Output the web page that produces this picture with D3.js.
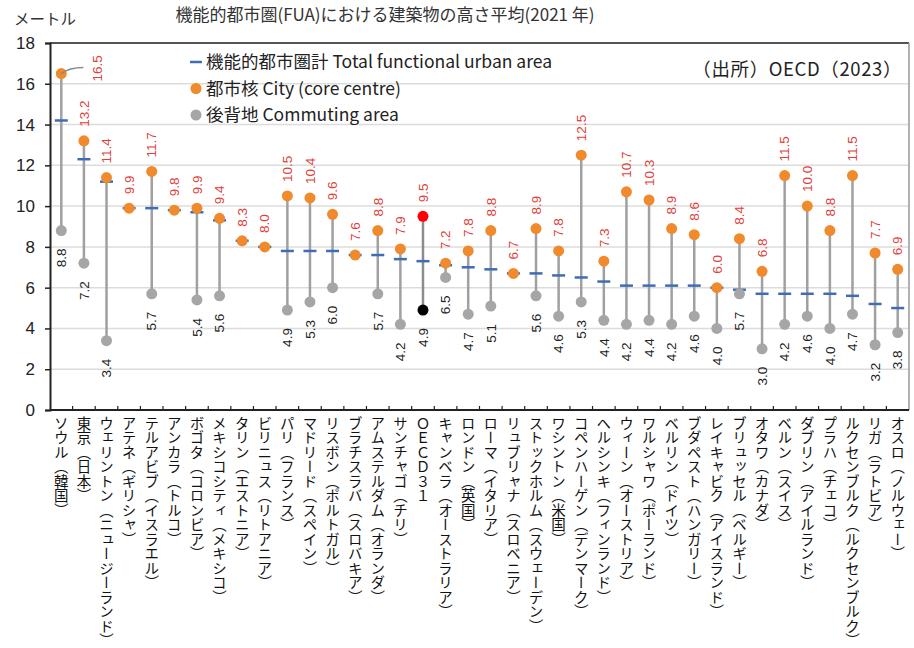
<!DOCTYPE html>
<html>
<head>
<meta charset="utf-8">
<script src="https://cdn.jsdelivr.net/npm/d3@7"></script>
<style>
  body { margin: 0; background: #fff; }
  text { font-family: "Noto Sans CJK JP", "Noto Sans", sans-serif; }
</style>
</head>
<body>
<svg id="chart"></svg>
<script>
const width = 914;
const height = 648;

// data
const cities = ["ソウル（韓国）", "東京（日本）", "ウェリントン（ニュージーランド）", "アテネ（ギリシャ）", "テルアビブ（イスラエル）",
  "アンカラ（トルコ）", "ボゴタ（コロンビア）", "メキシコシティ（メキシコ）", "タリン（エストニア）", "ビリニュス（リトアニア）",
  "パリ（フランス）", "マドリード（スペイン）", "リスボン（ポルトガル）", "ブラチスラバ（スロバキア）", "アムステルダム（オランダ）",
  "サンチャゴ（チリ）", "ＯＥＣＤ３１", "キャンベラ（オーストラリア）", "ロンドン（英国）", "ローマ（イタリア）",
  "リュブリャナ（スロベニア）", "ストックホルム（スウェーデン）", "ワシントン（米国）", "コペンハーゲン（デンマーク）", "ヘルシンキ（フィンランド）",
  "ウィーン（オーストリア）", "ワルシャワ（ポーランド）", "ベルリン（ドイツ）", "ブダペスト（ハンガリー）", "レイキャビク（アイスランド）",
  "ブリュッセル（ベルギー）", "オタワ（カナダ）", "ベルン（スイス）", "ダブリン（アイルランド）", "プラハ（チェコ）",
  "ルクセンブルク（ルクセンブルク）", "リガ（ラトビア）", "オスロ（ノルウェー）"];
const cityCore = [16.5, 13.2, 11.4, 9.9, 11.7, 9.8, 9.9, 9.4, 8.3, 8.0,
  10.5, 10.4, 9.6, 7.6, 8.8, 7.9, 9.5, 7.2, 7.8, 8.8,
  6.7, 8.9, 7.8, 12.5, 7.3, 10.7, 10.3, 8.9, 8.6, 6.0,
  8.4, 6.8, 11.5, 10.0, 8.8, 11.5, 7.7, 6.9];
const commuting = [8.8, 7.2, 3.4, null, 5.7, null, 5.4, 5.6, null, null,
  4.9, 5.3, 6.0, null, 5.7, 4.2, 4.9, 6.5, 4.7, 5.1,
  null, 5.6, 4.6, 5.3, 4.4, 4.2, 4.4, 4.2, 4.6, 4.0,
  5.7, 3.0, 4.2, 4.6, 4.0, 4.7, 3.2, 3.8];
const totalFua = [14.2, 12.3, 11.2, 9.9, 9.9, 9.8, 9.7, 9.3, 8.3, 8.0,
  7.8, 7.8, 7.8, 7.6, 7.6, 7.4, 7.3, 7.1, 7.0, 6.9,
  6.7, 6.7, 6.6, 6.5, 6.3, 6.1, 6.1, 6.1, 6.1, 6.0,
  5.9, 5.7, 5.7, 5.7, 5.7, 5.6, 5.2, 5.0];
const yTicks = [0, 2, 4, 6, 8, 10, 12, 14, 16, 18];

const data = cities.map((c, i) => ({name: c, city: cityCore[i], comm: commuting[i], total: totalFua[i]}));

const svg = d3.select("#chart")
  .attr("width", width)
  .attr("height", height);

const x = d3.scaleBand()
  .domain(cities)
  .range([50, 909]);

const y = d3.scaleLinear()
  .domain([0, 18])
  .range([410, 43]);

// gridlines
svg.append("g")
  .selectAll("line")
  .data(yTicks.slice(1, -1))
  .enter()
  .append("line")
  .attr("x1", 50)
  .attr("x2", 909)
  .attr("y1", d => y(d))
  .attr("y2", d => y(d))
  .attr("stroke", "#dcdcdc")
  .attr("stroke-width", 1.5);

// frame top / right
svg.append("line")
  .attr("x1", 50).attr("x2", 909)
  .attr("y1", y(18)).attr("y2", y(18))
  .attr("stroke", "#555").attr("stroke-width", 2);
svg.append("line")
  .attr("x1", 909).attr("x2", 909)
  .attr("y1", y(18)).attr("y2", y(0))
  .attr("stroke", "#999").attr("stroke-width", 1.5);

// y axis
const yAxis = svg.append("g")
  .attr("transform", "translate(50,0)")
  .call(d3.axisLeft(y).tickValues(yTicks).tickSize(5).tickPadding(10));
yAxis.select(".domain").attr("stroke", "#222").attr("stroke-width", 2);
yAxis.selectAll(".tick line").attr("stroke", "#222").attr("stroke-width", 1.5);
yAxis.selectAll(".tick text")
  .attr("font-size", "17px")
  .attr("fill", "#222")
  .style("font-family", "Liberation Sans, Arial, sans-serif");

// x axis (ticks at band boundaries, pointing up)
svg.append("line")
  .attr("x1", 50).attr("x2", 909)
  .attr("y1", y(0)).attr("y2", y(0))
  .attr("stroke", "#222").attr("stroke-width", 2);
svg.append("g")
  .selectAll("line")
  .data(cities.slice(1))
  .enter()
  .append("line")
  .attr("x1", d => x(d))
  .attr("x2", d => x(d))
  .attr("y1", y(0))
  .attr("y2", y(0) - 4)
  .attr("stroke", "#222")
  .attr("stroke-width", 1.2);

// category labels, vertical
svg.append("g")
  .selectAll("text")
  .data(cities)
  .enter()
  .append("text")
  .attr("x", d => x(d) + x.bandwidth() / 2)
  .attr("y", 416)
  .style("writing-mode", "vertical-rl")
  .attr("font-size", "14.5px")
  .attr("fill", "#111")
  .text(d => d);

const cx = d => x(d.name) + x.bandwidth() / 2;

// connecting lines
svg.append("g")
  .selectAll("line")
  .data(data.filter(d => d.comm != null))
  .enter()
  .append("line")
  .attr("x1", cx).attr("x2", cx)
  .attr("y1", d => y(d.city))
  .attr("y2", d => y(d.comm))
  .attr("stroke", d => d.name === "ＯＥＣＤ３１" ? "#8c8c8c" : "#a0a0a0")
  .attr("stroke-width", 2.5);

// total FUA dashes
svg.append("g")
  .selectAll("line")
  .data(data)
  .enter()
  .append("line")
  .attr("x1", d => cx(d) - 6.5)
  .attr("x2", d => cx(d) + 6.5)
  .attr("y1", d => y(d.total))
  .attr("y2", d => y(d.total))
  .attr("stroke", "#3f6db5")
  .attr("stroke-width", 2.5);

// commuting dots
svg.append("g")
  .selectAll("circle")
  .data(data.filter(d => d.comm != null))
  .enter()
  .append("circle")
  .attr("cx", cx)
  .attr("cy", d => y(d.comm))
  .attr("r", 5.5)
  .attr("fill", d => d.name === "ＯＥＣＤ３１" ? "#000" : "#a6a6a6");

// city dots
svg.append("g")
  .selectAll("circle")
  .data(data)
  .enter()
  .append("circle")
  .attr("cx", cx)
  .attr("cy", d => y(d.city))
  .attr("r", 5.5)
  .attr("fill", d => d.name === "ＯＥＣＤ３１" ? "#ff0000" : "#f08a2c");

// city value labels (above)
svg.append("g")
  .selectAll("text")
  .data(data)
  .enter()
  .append("text")
  .attr("transform", (d, i) => i === 0
    ? `translate(${cx(d) + 36},${y(d.city) + 8}) rotate(-90)`
    : `translate(${cx(d)},${y(d.city) - 14}) rotate(-90)`)
  .attr("dy", "0.35em")
  .attr("font-size", "13.5px")
  .attr("fill", "#e0403a")
  .style("font-family", "Liberation Sans, Arial, sans-serif")
  .text(d => d.city.toFixed(1));

// leader line for Seoul
const seoul = data[0];
svg.append("path")
  .attr("d", `M${cx(seoul)},${y(seoul.city)} Q${cx(seoul) + 8},${y(seoul.city) - 6} ${cx(seoul) + 22},${y(seoul.city) - 6}`)
  .attr("fill", "none")
  .attr("stroke", "#888")
  .attr("stroke-width", 1.5);

// commuting value labels (below)
svg.append("g")
  .selectAll("text")
  .data(data.filter(d => d.comm != null))
  .enter()
  .append("text")
  .attr("transform", d => `translate(${cx(d)},${y(d.comm) + 18}) rotate(-90)`)
  .attr("dy", "0.35em")
  .attr("text-anchor", "end")
  .attr("font-size", "13.5px")
  .attr("fill", "#222")
  .style("font-family", "Liberation Sans, Arial, sans-serif")
  .text(d => d.comm.toFixed(1));

// titles
svg.append("text")
  .attr("x", 385)
  .attr("y", 21)
  .attr("text-anchor", "middle")
  .attr("font-size", "17px")
  .attr("fill", "#333")
  .text("機能的都市圏(FUA)における建築物の高さ平均(2021 年)");

svg.append("text")
  .attr("x", 14)
  .attr("y", 25)
  .attr("font-size", "15.5px")
  .attr("fill", "#333")
  .text("メートル");

svg.append("text")
  .attr("x", 902)
  .attr("y", 76)
  .attr("text-anchor", "end")
  .attr("font-size", "18.5px")
  .attr("fill", "#222")
  .attr("letter-spacing", "0.6px")
  .text("（出所）OECD（2023）");

// legend
const legendData = [
  {label: "機能的都市圏計 Total functional urban area", type: "dash", color: "#3f6db5"},
  {label: "都市核 City (core centre)", type: "dot", color: "#f08a2c"},
  {label: "後背地 Commuting area", type: "dot", color: "#a6a6a6"}
];

const legend = svg.append("g")
  .attr("transform", "translate(196, 62)");

legend.selectAll("line")
  .data(legendData.filter(d => d.type === "dash"))
  .enter()
  .append("line")
  .attr("x1", -6).attr("x2", 6)
  .attr("y1", 0).attr("y2", 0)
  .attr("stroke", d => d.color)
  .attr("stroke-width", 2.5);

legend.selectAll("circle")
  .data(legendData)
  .enter()
  .filter(d => d.type === "dot")
  .append("circle")
  .attr("cx", 0)
  .attr("cy", d => legendData.indexOf(d) * 26.5)
  .attr("r", 5.5)
  .attr("fill", d => d.color);

legend.selectAll("text")
  .data(legendData)
  .enter()
  .append("text")
  .attr("x", 10)
  .attr("y", (d, i) => i * 26.5)
  .attr("dy", "0.35em")
  .attr("font-size", "17.5px")
  .attr("fill", "#222")
  .text(d => d.label);
</script>
</body>
</html>
